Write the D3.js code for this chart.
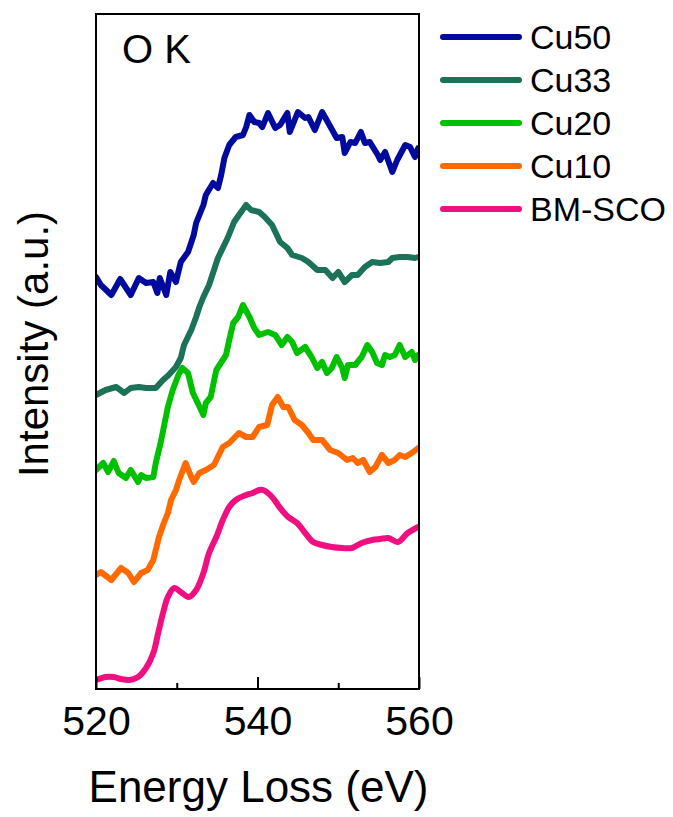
<!DOCTYPE html>
<html>
<head>
<meta charset="utf-8">
<script src="https://cdn.jsdelivr.net/npm/d3@7"></script>
<style>
  html, body { margin: 0; padding: 0; background: #fff; }
  svg { display: block; font-family: "Liberation Sans", Arial, sans-serif; }
</style>
</head>
<body>
<svg id="chart" width="673" height="817"></svg>
<script>
// ---- Data (Energy loss in eV, intensity in arbitrary offset units) ----
const seriesNames = ["Cu50", "Cu33", "Cu20", "Cu10", "BM-SCO"];
const seriesColors = ["#000a9c", "#1b7258", "#00c000", "#ff6a00", "#ef0f80"];
const xTicks = [520, 540, 560];
const xMinorTicks = [530, 550];
const panelLabel = "O K";

const cu50 = [
  [520.0,41.2],[520.6,40.4],[521.9,39.4],[523.0,41.0],[524.3,39.4],[525.3,41.1],[526.2,40.6],
  [527.1,40.7],[527.6,39.6],[527.9,41.1],[528.7,39.4],[529.2,41.7],[529.9,40.7],[530.5,42.7],
  [531.4,43.7],[532.1,45.4],[532.4,46.6],[533.3,48.4],[533.6,49.4],[534.5,50.6],[535.1,50.1],
  [535.5,51.4],[535.9,53.1],[536.5,54.4],[537.3,55.2],[538.2,55.4],[538.6,56.2],[539.0,57.4],
  [539.6,56.7],[540.2,56.6],[540.6,56.2],[541.3,57.6],[542.2,56.1],[542.8,56.4],[543.7,57.6],
  [544.0,55.7],[545.0,57.7],[545.9,57.1],[546.3,57.2],[547.1,55.9],[548.0,57.7],[548.7,56.7],
  [549.8,55.1],[550.5,55.2],[550.8,53.6],[551.5,54.7],[552.1,54.6],[552.8,55.7],[553.3,54.6],
  [553.9,54.7],[554.9,53.4],[555.2,52.9],[555.8,53.7],[556.7,51.7],[557.3,52.9],[558.3,54.4],
  [558.9,54.2],[559.5,53.2],[559.9,54.1]
];
const cu33 = [
  [520.0,29.4],[521.2,29.9],[522.5,30.2],[523.5,29.6],[524.3,30.1],[525.3,30.2],[526.2,30.1],
  [527.4,30.1],[528.3,30.9],[529.0,31.4],[529.9,32.2],[530.5,33.1],[530.9,34.4],[531.8,35.9],
  [532.4,37.2],[532.8,38.2],[533.3,39.2],[534.0,40.4],[535.1,43.1],[536.3,45.1],[537.1,46.7],
  [537.7,47.4],[538.6,48.4],[539.2,47.9],[540.2,47.7],[540.9,47.2],[541.8,46.4],[542.8,44.7],
  [543.7,44.1],[544.3,43.4],[545.5,43.1],[546.3,42.7],[547.4,41.9],[548.4,41.9],[549.3,41.1],
  [550.0,41.7],[550.8,40.7],[551.7,41.4],[552.4,41.4],[553.3,42.2],[554.2,42.7],[555.2,42.6],
  [556.2,42.7],[556.7,43.1],[557.6,43.2],[558.6,43.2],[559.5,43.1],[559.9,43.2]
];
const cu20 = [
  [520.0,21.9],[520.9,22.6],[521.5,21.7],[522.2,22.8],[522.8,21.6],[523.7,21.1],[524.3,21.9],
  [525.2,20.7],[525.6,21.4],[526.2,21.1],[527.1,21.2],[527.4,22.6],[528.0,24.6],[528.4,26.2],
  [528.9,28.2],[529.5,29.9],[530.2,31.4],[530.7,32.1],[531.4,31.6],[532.0,29.6],[532.6,28.6],
  [533.3,27.4],[533.6,28.6],[534.2,29.2],[534.9,31.9],[535.7,32.9],[536.1,33.4],[536.5,34.9],
  [537.0,36.6],[537.6,37.2],[538.2,38.4],[539.0,37.2],[539.6,36.1],[540.2,35.4],[541.3,35.7],
  [542.2,35.4],[543.0,34.4],[543.7,35.2],[544.3,34.7],[544.9,33.6],[545.9,34.2],[546.7,33.2],
  [547.4,32.1],[548.0,32.7],[548.6,31.6],[549.2,32.1],[549.8,33.2],[550.5,32.1],[550.8,31.1],
  [551.2,32.4],[552.1,32.4],[552.9,33.2],[553.6,34.4],[554.2,33.7],[554.8,32.6],[555.4,32.4],
  [555.8,33.4],[556.4,33.2],[557.0,33.4],[557.6,34.4],[558.3,33.2],[559.1,33.7],[559.5,32.9],
  [559.9,33.4]
];
const cu10 = [
  [520.0,11.4],[520.6,11.7],[521.9,10.9],[523.1,12.1],[524.0,11.6],[524.7,10.7],[525.6,11.6],
  [526.4,11.9],[527.1,12.9],[527.4,13.9],[527.8,15.2],[528.4,16.6],[528.9,17.6],[529.3,18.9],
  [529.9,19.9],[530.3,20.9],[531.1,22.6],[531.8,21.2],[532.1,20.7],[532.8,21.6],[533.6,21.9],
  [534.6,22.4],[535.7,24.2],[536.5,24.6],[537.7,25.6],[538.6,25.2],[539.4,25.2],[540.2,26.2],
  [541.2,26.4],[541.8,28.4],[542.5,29.2],[543.2,28.2],[543.8,28.2],[544.6,26.9],[545.5,26.4],
  [546.3,25.6],[546.9,24.9],[548.0,24.9],[549.0,23.9],[550.0,23.6],[551.1,22.9],[551.8,23.1],
  [552.4,22.6],[553.1,22.9],[553.9,21.7],[554.6,22.2],[555.4,23.4],[556.2,22.6],[557.0,22.9],
  [557.6,23.4],[558.3,23.2],[559.1,23.6],[559.9,24.1]
];
const bmsco = [
  [520.0,0.9],[521.2,1.2],[522.2,1.2],[523.1,1.0],[524.1,0.9],[525.2,1.2],[526.2,2.1],
  [527.1,3.6],[527.7,5.6],[528.3,7.6],[528.9,9.2],[529.7,10.1],[530.5,9.7],[531.5,9.2],
  [532.4,9.9],[533.3,11.6],[534.0,13.6],[534.9,15.2],[535.7,16.9],[536.5,18.2],[537.3,18.9],
  [538.6,19.4],[539.4,19.6],[540.2,19.9],[540.7,19.9],[541.8,19.2],[542.8,18.1],[543.8,17.2],
  [544.9,16.6],[545.9,15.6],[546.9,14.7],[548.0,14.4],[549.2,14.2],[550.5,14.1],[551.7,14.1],
  [552.9,14.6],[554.2,14.9],[555.2,15.0],[556.2,15.1],[557.4,14.7],[558.6,15.6],[559.9,16.2]
];
const seriesData = [cu50, cu33, cu20, cu10, bmsco];

// ---- Layout ----
const svg = d3.select("#chart");
const L = 96, R = 419, T = 14, B = 689;

const x = d3.scaleLinear().domain([520, 560]).range([L, R]);
const y = d3.scaleLinear().domain([0, 67.5]).range([B, T]);

const plot = svg.append("g");
svg.append("clipPath").attr("id", "clip")
  .append("rect").attr("x", L).attr("y", T).attr("width", R - L).attr("height", B - T);

const lineLinear = d3.line().x(d => x(d[0])).y(d => y(d[1])).curve(d3.curveLinear);
const lineSmooth = d3.line().x(d => x(d[0])).y(d => y(d[1])).curve(d3.curveCatmullRom.alpha(0.5));

seriesData.forEach((data, i) => {
  plot.append("path")
    .datum(data)
    .attr("clip-path", "url(#clip)")
    .attr("fill", "none")
    .attr("stroke", seriesColors[i])
    .attr("stroke-width", 6)
    .attr("stroke-linejoin", "round")
    .attr("stroke-linecap", "round")
    .attr("d", seriesNames[i] === "BM-SCO" ? lineSmooth : lineLinear);
});

// ---- Axes ----
const xAxis = svg.append("g")
  .attr("transform", `translate(0,${B})`)
  .call(d3.axisBottom(x).tickValues(xTicks).tickSizeInner(-12).tickSizeOuter(0).tickPadding(17)
        .tickFormat(d3.format("d")));
xAxis.select(".domain").remove();
xAxis.selectAll(".tick line").attr("stroke", "#000").attr("stroke-width", 2);
xAxis.selectAll(".tick text").attr("font-size", 41).attr("fill", "#000")
  .attr("font-family", "'Liberation Sans', Arial, sans-serif");

const xMinor = svg.append("g")
  .attr("transform", `translate(0,${B})`)
  .call(d3.axisBottom(x).tickValues(xMinorTicks).tickSizeInner(-6).tickSizeOuter(0).tickFormat(""));
xMinor.select(".domain").remove();
xMinor.selectAll(".tick line").attr("stroke", "#000").attr("stroke-width", 2);

// frame
svg.append("rect")
  .attr("x", L).attr("y", T).attr("width", R - L).attr("height", B - T)
  .attr("fill", "none").attr("stroke", "#000").attr("stroke-width", 2);

// panel label
svg.append("text").attr("x", 122).attr("y", 63)
  .attr("font-size", 40).attr("fill", "#000").text(panelLabel);

// axis titles
svg.append("text")
  .attr("x", (L + R) / 2 + 1).attr("y", 802)
  .attr("text-anchor", "middle").attr("font-size", 44).attr("fill", "#000")
  .text("Energy Loss (eV)");

svg.append("text")
  .attr("transform", `translate(48,${344}) rotate(-90)`)
  .attr("text-anchor", "middle").attr("font-size", 42).attr("fill", "#000")
  .text("Intensity (a.u.)");

// ---- Legend ----
const legend = svg.append("g");
seriesNames.forEach((name, i) => {
  const ly = 37 + i * 43;
  legend.append("line")
    .attr("x1", 443).attr("x2", 519).attr("y1", ly).attr("y2", ly)
    .attr("stroke", seriesColors[i]).attr("stroke-width", 6).attr("stroke-linecap", "round");
  legend.append("text")
    .attr("x", 530).attr("y", ly + 11.5)
    .attr("font-size", 34).attr("fill", "#000").text(name);
});
</script>
</body>
</html>
